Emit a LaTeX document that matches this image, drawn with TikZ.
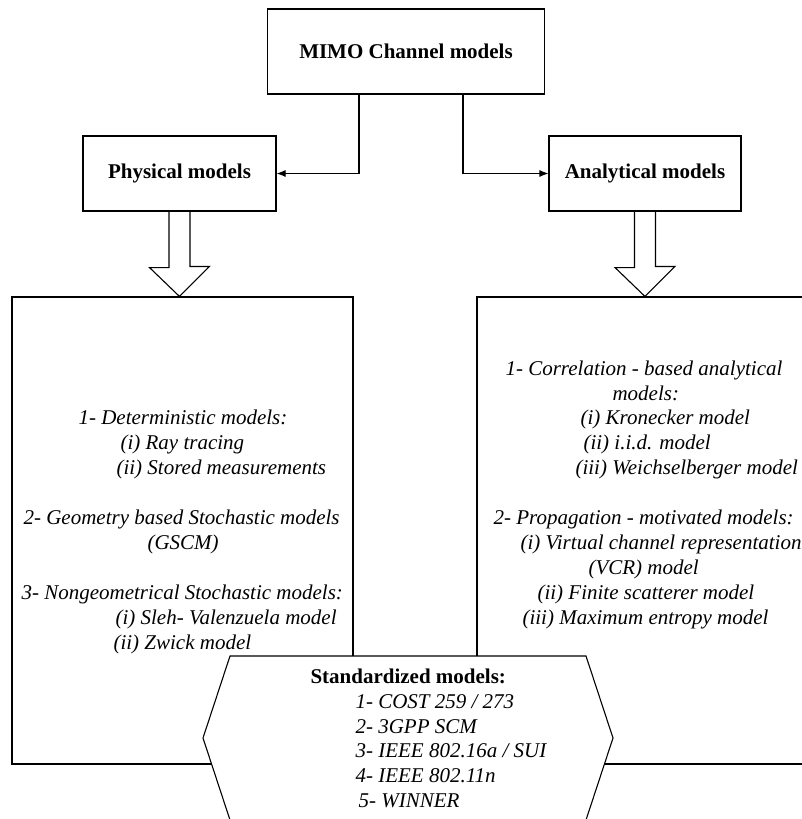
\documentclass[tikz,border=0pt]{standalone}
\usepackage{fontspec}
\setmainfont{Liberation Serif}
\usepackage{tikz}
\usetikzlibrary{
  positioning,
  calc,
  arrows.meta
}

\begin{document}
\begin{tikzpicture}[x=1pt,y=-1pt,line width=1.1pt,>={Latex[length=9pt,width=7pt]},
  box/.style={draw,inner sep=0,font=\fontsize{21}{25}\selectfont\bfseries},
  listline/.style={anchor=base west,inner sep=0,font=\fontsize{21}{25}\selectfont\itshape}]
  \useasboundingbox (0,0) rectangle (802,819);
  \clip (0,0) rectangle (802,819);
  % 箱
  \node[box,minimum width=277.5pt,minimum height=85pt] (mimo) at (406,51.5) {MIMO Channel models};
  \node[box,minimum width=193pt,minimum height=75pt] (phys) at (179.5,173.5) {Physical models};
  \node[box,minimum width=192pt,minimum height=75pt] (anal) at (645,173.5) {Analytical models};
  \node[box,minimum width=341pt,minimum height=467pt] (physlist) at (182.5,530.5) {};
  \node[box,minimum width=353pt,minimum height=467pt] (anallist) at (653.5,530.5) {};
  % 矢印
  \draw[->] ($(mimo.south)+(-47,0)$) |- (phys.east);
  \draw[->] ($(mimo.south)+(57,0)$) |- (anal.west);
  \foreach \a/\b in {phys/physlist,anal/anallist}
    \draw ($(\a.south)+(-10.5,0)$) -- ++(0,56) -- ++(-19.5,0) -- (\a.south |- \b.north)
      -- ++(30,-30) -- ++(-19.5,0) -- ($(\a.south)+(10.5,0)$);
  % 六角形
  \draw[fill=white] (230,656) -- (586,656) -- (613,738) -- (586,820) -- (230,820) -- (203,738) -- cycle;
  % 文字
  \foreach \x/\y/\txt [count=\i] in {78/424/{1- Deterministic models:},
      120/449/{(i) Ray tracing}, 116/474/{(ii) Stored measurements},
      23/524/{2- Geometry based Stochastic models}, 147/549/{(GSCM)},
      21/599/{3- Nongeometrical Stochastic models:},
      115/624/{(i) Sleh- Valenzuela model}, 113/649/{(ii) Zwick model}}
    \node[listline] (p\i) at (\x,\y) {\txt};
  \foreach \x/\y/\txt [count=\i] in {505/375/{1- Correlation - based analytical},
      612/400/{models:}, 580/424/{(i) Kronecker model}, 583/449/{(ii) i.i.d. model},
      575/474/{(iii) Weichselberger model},
      493/524/{2- Propagation - motivated models:},
      520/549/{(i) Virtual channel representation}, 588/574/{(VCR) model},
      537/599/{(ii) Finite scatterer model}, 522/624/{(iii) Maximum entropy model}}
    \node[listline] (a\i) at (\x,\y) {\txt};
  \node[box,draw=none,anchor=base west] (std) at (310,683) {Standardized models:};
  \foreach \x/\y/\txt [count=\i] in {355/708/{1- COST 259 / 273}, 355/733/{2- 3GPP SCM},
      355/757/{3- IEEE 802.16a / SUI}, 355/782/{4- IEEE 802.11n}, 358/807/{5- WINNER}}
    \node[listline] (s\i) at (\x,\y) {\txt};
\end{tikzpicture}
\end{document}
